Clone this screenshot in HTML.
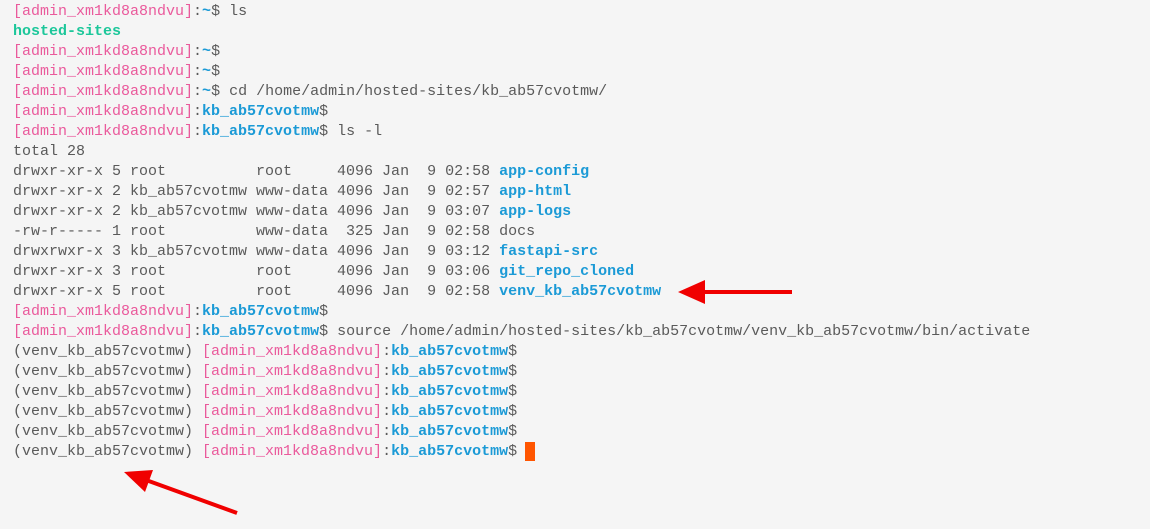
<!DOCTYPE html>
<html><head><meta charset="utf-8"><style>
html,body{margin:0;padding:0;background:#f5f5f5;width:1150px;height:529px;overflow:hidden}
pre{margin:0;position:absolute;left:13px;top:2px;font-family:"Liberation Mono","DejaVu Sans Mono",monospace;font-size:15px;line-height:20px;color:#5a5a5a;white-space:pre}
.p{color:#ea5a9c}.b{color:#1b9ad6;font-weight:bold}.g{color:#1cc79a;font-weight:bold}
.c{position:absolute;left:525px;top:442px;width:10px;height:19px;background:#ff5500}
svg{position:absolute;left:0;top:0}
</style></head><body>
<pre><span class="p">[admin_xm1kd8a8ndvu]</span>:<span class="b">~</span>$ ls
<span class="g">hosted-sites</span>
<span class="p">[admin_xm1kd8a8ndvu]</span>:<span class="b">~</span>$
<span class="p">[admin_xm1kd8a8ndvu]</span>:<span class="b">~</span>$
<span class="p">[admin_xm1kd8a8ndvu]</span>:<span class="b">~</span>$ cd /home/admin/hosted-sites/kb_ab57cvotmw/
<span class="p">[admin_xm1kd8a8ndvu]</span>:<span class="b">kb_ab57cvotmw</span>$
<span class="p">[admin_xm1kd8a8ndvu]</span>:<span class="b">kb_ab57cvotmw</span>$ ls -l
total 28
drwxr-xr-x 5 root          root     4096 Jan  9 02:58 <span class="b">app-config</span>
drwxr-xr-x 2 kb_ab57cvotmw www-data 4096 Jan  9 02:57 <span class="b">app-html</span>
drwxr-xr-x 2 kb_ab57cvotmw www-data 4096 Jan  9 03:07 <span class="b">app-logs</span>
-rw-r----- 1 root          www-data  325 Jan  9 02:58 docs
drwxrwxr-x 3 kb_ab57cvotmw www-data 4096 Jan  9 03:12 <span class="b">fastapi-src</span>
drwxr-xr-x 3 root          root     4096 Jan  9 03:06 <span class="b">git_repo_cloned</span>
drwxr-xr-x 5 root          root     4096 Jan  9 02:58 <span class="b">venv_kb_ab57cvotmw</span>
<span class="p">[admin_xm1kd8a8ndvu]</span>:<span class="b">kb_ab57cvotmw</span>$
<span class="p">[admin_xm1kd8a8ndvu]</span>:<span class="b">kb_ab57cvotmw</span>$ source /home/admin/hosted-sites/kb_ab57cvotmw/venv_kb_ab57cvotmw/bin/activate
(venv_kb_ab57cvotmw) <span class="p">[admin_xm1kd8a8ndvu]</span>:<span class="b">kb_ab57cvotmw</span>$
(venv_kb_ab57cvotmw) <span class="p">[admin_xm1kd8a8ndvu]</span>:<span class="b">kb_ab57cvotmw</span>$
(venv_kb_ab57cvotmw) <span class="p">[admin_xm1kd8a8ndvu]</span>:<span class="b">kb_ab57cvotmw</span>$
(venv_kb_ab57cvotmw) <span class="p">[admin_xm1kd8a8ndvu]</span>:<span class="b">kb_ab57cvotmw</span>$
(venv_kb_ab57cvotmw) <span class="p">[admin_xm1kd8a8ndvu]</span>:<span class="b">kb_ab57cvotmw</span>$
(venv_kb_ab57cvotmw) <span class="p">[admin_xm1kd8a8ndvu]</span>:<span class="b">kb_ab57cvotmw</span>$</pre>
<div class="c"></div>
<svg width="1150" height="529">
<line x1="792" y1="292" x2="700" y2="292" stroke="#f00000" stroke-width="4"/>
<polygon points="678,292 705,280 705,304" fill="#f00000"/>
<line x1="237" y1="513" x2="146" y2="480" stroke="#f00000" stroke-width="4"/>
<polygon points="124,472 153,470 145,492" fill="#f00000"/>
</svg>
</body></html>
